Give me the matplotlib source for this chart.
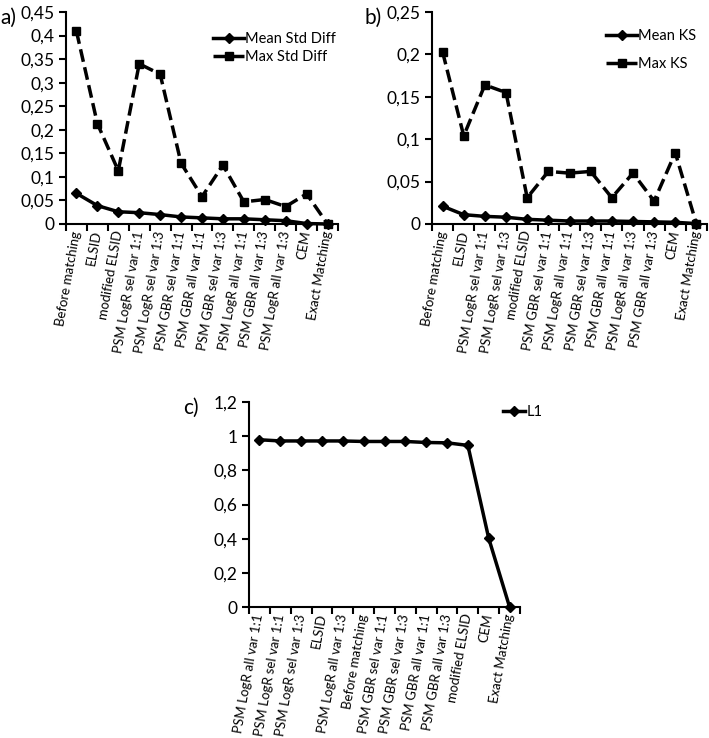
import numpy as np
import matplotlib.pyplot as plt

plt.rcParams['font.family'] = ['Lato', 'DejaVu Sans']

# panel a
cats_a = ["Before matching", "ELSID", "modified ELSID", "PSM LogR sel var 1:1",
          "PSM LogR sel var 1:3", "PSM GBR sel var 1:1", "PSM GBR all var 1:1",
          "PSM GBR sel var 1:3", "PSM LogR all var 1:1", "PSM GBR all var 1:3",
          "PSM LogR all var 1:3", "CEM", "Exact Matching"]
mean_std = [0.065, 0.039, 0.026, 0.024, 0.020, 0.015, 0.013, 0.011, 0.011, 0.009, 0.007, 0.001, 0.0]
max_std = [0.409, 0.213, 0.113, 0.340, 0.318, 0.129, 0.058, 0.125, 0.047, 0.052, 0.037, 0.064, 0.0]

# panel b
cats_b = ["Before matching", "ELSID", "PSM LogR sel var 1:1", "PSM LogR sel var 1:3",
          "modified ELSID", "PSM GBR sel var 1:1", "PSM LogR all var 1:1",
          "PSM GBR sel var 1:3", "PSM GBR all var 1:1", "PSM LogR all var 1:3",
          "PSM GBR all var 1:3", "CEM", "Exact Matching"]
mean_ks = [0.021, 0.011, 0.009, 0.008, 0.0055, 0.0045, 0.0035, 0.0035, 0.0035, 0.003, 0.0025, 0.002, 0.0005]
max_ks = [0.203, 0.104, 0.164, 0.155, 0.031, 0.062, 0.060, 0.062, 0.031, 0.060, 0.027, 0.084, 0.0]

# panel c
cats_c = ["PSM LogR all var 1:1", "PSM LogR sel var 1:1", "PSM LogR sel var 1:3",
          "ELSID", "PSM LogR all var 1:3", "Before matching", "PSM GBR sel var 1:1",
          "PSM GBR sel var 1:3", "PSM GBR all var 1:1", "PSM GBR all var 1:3",
          "modified ELSID", "CEM", "Exact Matching"]
l1 = [0.979, 0.972, 0.972, 0.972, 0.972, 0.969, 0.969, 0.969, 0.963, 0.961, 0.946, 0.402, 0.0]

W, H = 709, 738
fig = plt.figure(figsize=(W / 100, H / 100), dpi=100)


def box(l, r, t, b):
    return [l / W, 1 - b / H, (r - l) / W, (b - t) / H]


def fmt(v, _):
    s = ("%.2f" % v).rstrip("0").rstrip(".")
    return s.replace(".", ",")


def style(ax, cats, ymax, ystep):
    n = len(cats)
    x = np.arange(n)
    ax.set_xlim(-0.5, n - 0.5)
    ax.set_ylim(0, ymax)
    ax.set_yticks(np.arange(0, ymax + ystep / 2, ystep))
    ax.yaxis.set_major_formatter(plt.FuncFormatter(fmt))
    ax.set_xticks(np.arange(n + 1) - 0.5)
    ax.set_xticklabels([])
    ax.set_xticks(x, minor=True)
    ax.set_xticklabels(cats, minor=True, rotation=80, ha="right", va="center",
                       rotation_mode="anchor", fontsize=9.5)
    ax.tick_params(axis="x", which="minor", length=0, pad=5)
    ax.tick_params(axis="x", which="major", length=5, width=1.5, direction="out")
    ax.tick_params(axis="y", length=5, width=1.5, labelsize=12.5)
    for s in ["top", "right"]:
        ax.spines[s].set_visible(False)
    for s in ["left", "bottom"]:
        ax.spines[s].set_linewidth(1.5)
    return x


ax_a = fig.add_axes(box(66, 338, 12, 224))
x = style(ax_a, cats_a, 0.45, 0.05)
ax_a.plot(x, mean_std, color="black", lw=2.5, marker="D", ms=5, label="Mean Std Diff", clip_on=False)
ax_a.plot(x, max_std, color="black", lw=2.5, ls="--", marker="s", ms=5.5, label="Max Std Diff", clip_on=False)
ax_a.legend(loc="upper left", bbox_to_anchor=(0.515, 0.94), frameon=False, fontsize=10.5,
            handlelength=2.1, handletextpad=0.1, labelspacing=0.3, borderpad=0)

ax_b = fig.add_axes(box(432, 707, 12, 224))
x = style(ax_b, cats_b, 0.25, 0.05)
ax_b.plot(x, mean_ks, color="black", lw=2.5, marker="D", ms=5, label="Mean KS", clip_on=False)
ax_b.plot(x, max_ks, color="black", lw=2.5, ls="--", marker="s", ms=5.5, label="Max KS", clip_on=False)
ax_b.legend(loc="upper left", bbox_to_anchor=(0.607, 0.955), frameon=False, fontsize=10.5,
            handlelength=2.1, handletextpad=0.1, labelspacing=0.95, borderpad=0)

ax_c = fig.add_axes(box(249, 520, 402, 607))
x = style(ax_c, cats_c, 1.2, 0.2)
ax_c.plot(x, l1, color="black", lw=2.5, marker="D", ms=5, label="L1", clip_on=False)
ax_c.legend(loc="upper left", bbox_to_anchor=(0.91, 1.02), frameon=False, fontsize=10.5,
            handlelength=1.5, handletextpad=0.1, borderpad=0)

fig.text(0 / W, 1 - 18 / H, "a)", fontsize=15, va="center", ha="left")
fig.text(364 / W, 1 - 18 / H, "b)", fontsize=15, va="center", ha="left")
fig.text(183 / W, 1 - 408 / H, "c)", fontsize=15, va="center", ha="left")

fig.savefig("out.png", dpi=100)
